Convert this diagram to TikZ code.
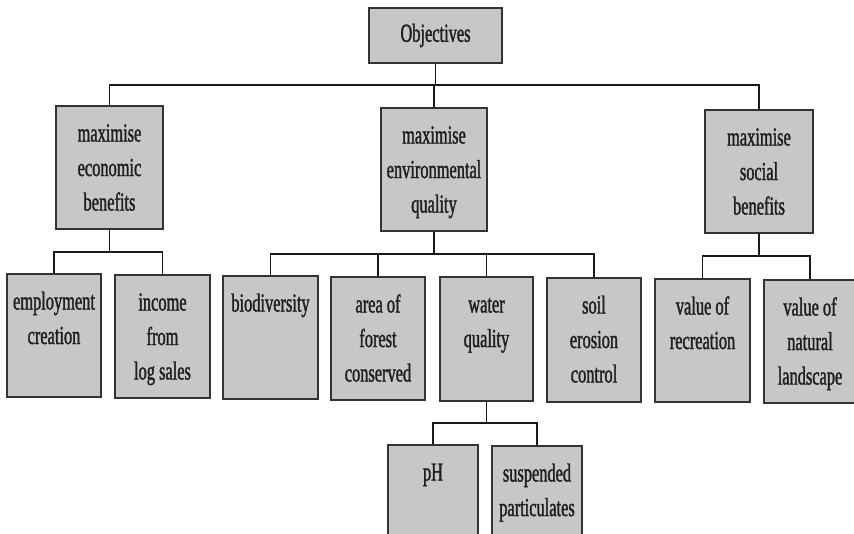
\documentclass[tikz,border=0pt]{standalone}
\usepackage{fontspec}
\setmainfont{Liberation Serif}[FakeStretch=0.63,FakeBold=1.3]
\newcommand{\fl}{\rule{0pt}{20pt}}
\begin{document}
\begin{tikzpicture}[x=1pt,y=-1pt,
  box/.style={draw=black!80, line width=1.3pt, fill=black!22, inner sep=0pt, rectangle},
  lbl/.style={anchor=north, align=center, inner sep=0pt, text=black!88,
    font=\fontsize{26}{34.5}\selectfont},
  conn/.style={draw=black!90, line width=1.4pt}]
\clip (0,0) rectangle (854,533);
\fill[white] (0,0) rectangle (854,533);
% top
\node[box, minimum width=133pt, minimum height=55pt, text=black!88,
  font=\fontsize{26}{34.5}\selectfont] (obj) at (435.5,35.5) {Objectives};
% level 1
\node[box, minimum width=107pt, minimum height=123pt] (econ) at (109.5,167.5) {};
\node[box, minimum width=106pt, minimum height=123pt] (env) at (434,169.5) {};
\node[box, minimum width=108pt, minimum height=123pt] (soc) at (759,171.5) {};
% level 2
\node[box, minimum width=94pt, minimum height=123pt] (emp) at (54,335.5) {};
\node[box, minimum width=95pt, minimum height=123pt] (inc) at (162.5,336.5) {};
\node[box, minimum width=95pt, minimum height=123pt] (bio) at (270.5,337.5) {};
\node[box, minimum width=94pt, minimum height=123pt] (area) at (378,338.5) {};
\node[box, minimum width=93pt, minimum height=124pt] (water) at (486.5,339) {};
\node[box, minimum width=94pt, minimum height=124pt] (soil) at (594,340) {};
\node[box, minimum width=95pt, minimum height=123pt] (rec) at (702.5,340.5) {};
\node[box, minimum width=92pt, minimum height=123pt] (nat) at (810,341.5) {};
% level 3
\node[box, minimum width=90pt, minimum height=100pt] (ph) at (433,495) {};
\node[box, minimum width=90pt, minimum height=100pt] (susp) at (537,496) {};
% texts
\node[lbl] (econ-t) at ([yshift=-16pt]econ.north) {\fl maximise\\economic\\benefits};
\node[lbl] (env-t) at ([yshift=-16pt]env.north) {\fl maximise\\environmental\\quality};
\node[lbl] (soc-t) at ([yshift=-16pt]soc.north) {\fl maximise\\social\\benefits};
\node[lbl] (emp-t) at ([yshift=-16pt]emp.north) {\fl employment\\creation};
\node[lbl] (inc-t) at ([yshift=-16pt]inc.north) {\fl income\\from\\log sales};
\node[lbl] (bio-t) at ([yshift=-16pt]bio.north) {\fl biodiversity};
\node[lbl] (area-t) at ([yshift=-16pt]area.north) {\fl area of\\forest\\conserved};
\node[lbl] (water-t) at ([yshift=-16pt]water.north) {\fl water\\quality};
\node[lbl] (soil-t) at ([yshift=-16pt]soil.north) {\fl soil\\erosion\\control};
\node[lbl] (rec-t) at ([yshift=-16pt]rec.north) {\fl value of\\recreation};
\node[lbl] (nat-t) at ([yshift=-16pt]nat.north) {\fl value of\\natural\\landscape};
\node[lbl] (ph-t) at ([yshift=-16pt]ph.north) {\fl pH};
\node[lbl] (susp-t) at ([yshift=-16pt]susp.north) {\fl suspended\\particulates};
% buses
\coordinate (b0) at (435.5,85);
\coordinate (b1) at (109.5,252);
\coordinate (b2) at (434,254);
\coordinate (b3) at (759,256);
\coordinate (b4) at (486.5,423);
% connectors
\draw[conn] (obj.south) -- (b0);
\draw[conn] (econ.north) |- (b0) -| (soc.north);
\draw[conn] (env.north) -- (env.north |- b0);
\draw[conn] (econ.south) -- (b1);
\draw[conn] (emp.north) |- (b1) -| (inc.north);
\draw[conn] (env.south) -- (b2);
\draw[conn] (bio.north) |- (b2) -| (soil.north);
\draw[conn] (area.north) -- (area.north |- b2);
\draw[conn] (water.north) -- (water.north |- b2);
\draw[conn] (soc.south) -- (b3);
\draw[conn] (rec.north) |- (b3) -| (nat.north);
\draw[conn] (water.south) -- (b4);
\draw[conn] (ph.north) |- (b4) -| (susp.north);
\end{tikzpicture}
\end{document}
